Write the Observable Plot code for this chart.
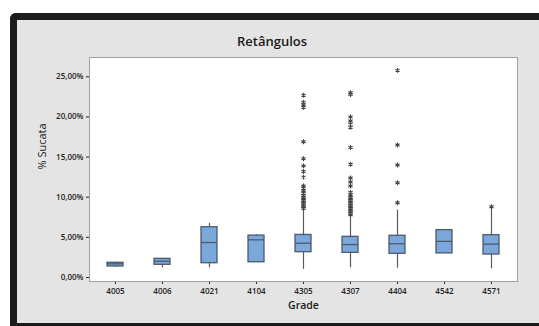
<!DOCTYPE html>
<html>
<head>
<meta charset="utf-8">
<script src="https://cdn.jsdelivr.net/npm/d3@7"></script>
<script src="https://cdn.jsdelivr.net/npm/@observablehq/plot@0.6"></script>
<style>
  html, body { margin:0; padding:0; background:#ffffff; overflow:hidden; width:539px; height:326px; }
  #frame { position:absolute; left:10px; top:13px; width:535px; height:303px;
    border:7px solid #1b1b1b; border-right:none; border-top-left-radius:6px;
    background:#e4e4e4; font-family:"Open Sans", sans-serif; }
  #title { width:510px; height:34px; padding-top:8px; box-sizing:border-box; text-align:center;
    font-size:13px; line-height:26px; font-weight:600; color:#1a1a1a; }
  #chart svg [aria-label^="y-axis"] text, #chart svg [aria-label^="x-axis"] text { font-weight:600; fill:#222; }
</style>
</head>
<body>
<div id="frame">
  <div id="title">Retângulos</div>
  <div id="chart"></div>
</div>
<script>
const grades = ["4005","4006","4021","4104","4305","4307","4404","4542","4571"];
const q1Values = [1.37, 1.58, 1.78, 1.90, 3.15, 3.07, 2.95, 3.00, 2.86];
const medianValues = [1.70, 2.03, 4.35, 4.69, 4.27, 4.10, 4.20, 4.50, 4.15];
const q3Values = [1.83, 2.32, 6.26, 5.22, 5.30, 5.06, 5.20, 5.90, 5.27];
const whiskerLow = [1.28, 1.20, 1.20, 1.90, 1.00, 1.20, 1.15, 3.00, 1.08];
const whiskerHigh = [1.90, 2.40, 6.75, 5.35, 8.30, 7.70, 8.40, 5.90, 8.75];

const outliers4305 = [22.7, 21.8, 21.5, 21.2, 16.9, 14.8, 13.9, 13.2, 12.5, 11.4, 11.1, 10.8, 10.5, 10.2, 10.0, 9.8, 9.6, 9.4, 9.2, 9.0, 8.8, 8.6];
const outliers4307 = [23.0, 22.8, 20.0, 19.5, 19.1, 18.7, 16.2, 14.1, 12.4, 11.9, 11.4, 10.6, 10.3, 10.0, 9.8, 9.6, 9.4, 9.2, 9.0, 8.8, 8.6, 8.4, 8.2, 8.0, 7.8];
const outliers4404 = [25.8, 16.5, 14.0, 11.8, 9.3];
const outliers4571 = [8.8];

const yTicks = [0, 5, 10, 15, 20, 25];
const yTitle = "% Sucata";
const xTitle = "Grade";

const rows = grades.map((g, i) => ({grade: g, q1: q1Values[i], median: medianValues[i], q3: q3Values[i], lo: whiskerLow[i], hi: whiskerHigh[i]}));
const outliers = [
  ...outliers4305.map(v => ({grade: "4305", value: v})),
  ...outliers4307.map(v => ({grade: "4307", value: v})),
  ...outliers4404.map(v => ({grade: "4404", value: v})),
  ...outliers4571.map(v => ({grade: "4571", value: v}))
];

const boxFill = "#7ba7db";
const boxStroke = "#4d5a6a";

const chart = Plot.plot({
  width: 522,
  height: 269,
  marginTop: 3,
  marginBottom: 42,
  marginLeft: 72,
  marginRight: 22,
  style: {background: "transparent", fontSize: "8px", fontFamily: "Open Sans, sans-serif", color: "#222"},
  x: {type: "band", domain: grades, paddingInner: 0.66, paddingOuter: 0.33, label: null, tickSize: 3, tickPadding: 4},
  y: {domain: [-0.5, 27.4], ticks: yTicks, tickFormat: d => d.toFixed(2).replace(".", ",") + "%", label: null, tickSize: 3, tickPadding: 3},
  marks: [
    Plot.frame({fill: "white", stroke: "#a0a0a0"}),
    Plot.ruleX(rows, {x: "grade", y1: "lo", y2: "q1", stroke: "#5a5a5a", strokeWidth: 1.2}),
    Plot.ruleX(rows, {x: "grade", y1: "q3", y2: "hi", stroke: "#5a5a5a", strokeWidth: 1.2}),
    Plot.barY(rows, {x: "grade", y1: "q1", y2: "q3", fill: boxFill, stroke: boxStroke, strokeWidth: 1.3}),
    Plot.tickY(rows, {x: "grade", y: "median", stroke: boxStroke, strokeWidth: 1.3}),
    Plot.dot(outliers, {x: "grade", y: "value", symbol: "asterisk", r: 2.3, stroke: "#444", strokeWidth: 1.1}),
    Plot.text([yTitle], {frameAnchor: "left", dx: -47, rotate: -90, fontSize: 11, fill: "#1a1a1a"}),
    Plot.text([xTitle], {frameAnchor: "bottom", dy: 24, lineAnchor: "middle", fontSize: 10.5, fontWeight: 600, fill: "#1a1a1a"})
  ]
});
document.getElementById("chart").appendChild(chart);
</script>
</body>
</html>
